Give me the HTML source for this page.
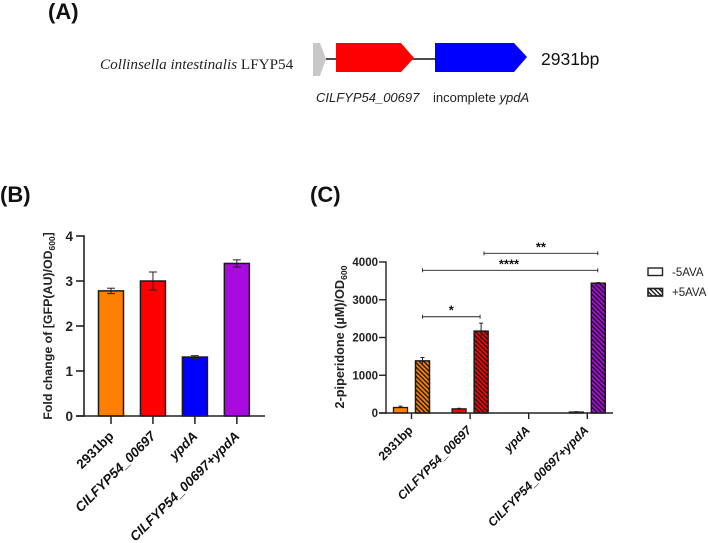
<!DOCTYPE html>
<html>
<head>
<meta charset="utf-8">
<style>
html,body{margin:0;padding:0;background:#fff;}
svg{display:block;font-family:"Liberation Sans",sans-serif;filter:blur(0.3px);}
</style>
</head>
<body>
<svg id="fig" width="708" height="543" viewBox="0 0 708 543" xmlns="http://www.w3.org/2000/svg">
<defs>
<pattern id="hatch" patternUnits="userSpaceOnUse" width="3.2" height="3.2" patternTransform="rotate(45)">
<rect x="0" y="0" width="3.2" height="1.4" fill="#1a1a1a"></rect>
</pattern>
</defs>

<g id="panel-a">
<text x="48" y="19" font-size="22" font-weight="bold" fill="#111">(A)</text>
<text x="100" y="69" font-size="15.2" fill="#222" style="font-family:'Liberation Serif',serif"><tspan font-style="italic">Collinsella intestinalis</tspan> LFYP54</text>
<line x1="326" y1="59" x2="435" y2="59" stroke="#111" stroke-width="1.5"></line>
<polygon points="313,43 320,43 326,59 320,76 313,76" fill="#c8c8c8"></polygon>
<polygon points="336,43 401,43 414,58 401,72 336,72" fill="#ff0000"></polygon>
<polygon points="435,43 514,43 527,57 514,72 435,72" fill="#0000ff"></polygon>
<text x="541" y="65" font-size="17.5" fill="#111">2931bp</text>
<text x="316" y="102" font-size="13" font-style="italic" fill="#222">CILFYP54_00697</text>
<text x="433" y="102" font-size="13" fill="#222">incomplete <tspan font-style="italic">ypdA</tspan></text>
</g>

<text x="0" y="202" font-size="22" font-weight="bold" fill="#111">(B)</text>
<text x="310" y="202" font-size="22" font-weight="bold" fill="#111">(C)</text>

<g id="chart-b"></g>
<g id="chart-c"></g>

<g id="legend">
<g>
<rect x="648" y="268" width="14.5" height="7.5" fill="#fff" stroke="#222" stroke-width="1.4"></rect>
<text x="672" y="276" font-size="11.5" fill="#222">-5AVA</text>
</g>
<g>
<rect x="648" y="288.5" width="14.5" height="7.5" fill="#fff" stroke="#222" stroke-width="1.4"></rect>
<rect x="648" y="288.5" width="14.5" height="7.5" fill="url(#hatch)" stroke="#222" stroke-width="1.4"></rect>
<text x="672" y="296" font-size="11.5" fill="#222">+5AVA</text>
</g>
</g>
</svg>

<script>
const SVG_NS = 'http://www.w3.org/2000/svg';

// Panel B data
const bCategories = ['2931bp', 'CILFYP54_00697', 'ypdA', 'CILFYP54_00697+ypdA'];
const bValues = [2.78, 3.0, 1.31, 3.39];
const bErrors = [0.06, 0.2, 0.03, 0.08];
const bTicks = [0, 1, 2, 3, 4];

// Panel C data
const cCategories = ['2931bp', 'CILFYP54_00697', 'ypdA', 'CILFYP54_00697+ypdA'];
const cMinusValues = [145, 110, 0, 25];
const cMinusErrors = [35, 15, 0, 10];
const cPlusValues = [1380, 2170, 0, 3440];
const cPlusErrors = [90, 210, 0, 15];
const cTicks = [0, 1000, 2000, 3000, 4000];

// Bracket annotations: [from category index, to category index, value height, stars]
const cBrackets = [
  [0, 3, 4230, '**'],
  [0, 3, 3780, '****'],
  [0, 1, 2550, '*']
];

const barColors = ['#ff8000', '#ff0000', '#0000ff', '#a80adf'];
const ink = '#222';

function mk(parent, tag, attrs, text) {
  const el = document.createElementNS(SVG_NS, tag);
  for (const k in attrs) el.setAttribute(k, attrs[k]);
  if (text !== undefined) el.textContent = text;
  parent.appendChild(el);
  return el;
}

function line(parent, x1, y1, x2, y2, w, name) {
  const el = mk(parent, 'line', { x1: x1, y1: y1, x2: x2, y2: y2, stroke: ink, 'stroke-width': w });
  
  
  return el;
}

function errorBar(parent, x, yTop, yBase, cap, name) {
  line(parent, x, yTop, x, yBase, 1, name);
  line(parent, x - cap, yTop, x + cap, yTop, 1, name + '-cap');
}

function catLabel(parent, x, y, label, size, name) {
  const t = mk(parent, 'text', {
    x: x, y: y, 'font-size': size, 'font-weight': 'bold', fill: '#111', 'text-anchor': 'end',
    transform: 'rotate(-45 ' + x + ' ' + y + ')'
  }, label);
  if (label !== '2931bp') t.setAttribute('font-style', 'italic');
  
  
}

function yTitle(parent, x, y, main, sub, after, size, name) {
  const t = mk(parent, 'text', {
    x: x, y: y, 'font-size': size, 'font-weight': 'bold', fill: '#222', 'text-anchor': 'middle',
    transform: 'rotate(-90 ' + x + ' ' + y + ')'
  });
  
  
  mk(t, 'tspan', {}, main);
  mk(t, 'tspan', { 'font-size': size * 0.68, dy: 3 }, sub);
  if (after) mk(t, 'tspan', { dy: -3 }, after);
}

/* ---------- Panel B ---------- */
(function () {
  const g = document.getElementById('chart-b');
  const y0 = 416, yMax = 236, vMax = 4;
  const yScale = function (v) { return y0 - (v / vMax) * (y0 - yMax); };
  const xScale = function (i) { return 111 + i * 41.95; };
  const barW = 25;

  bCategories.forEach(function (c, i) {
    const x = xScale(i);
    const yTop = yScale(bValues[i]);
    const bar = mk(g, 'rect', {
      x: x - barW / 2, y: yTop, width: barW, height: y0 - yTop,
      fill: barColors[i], stroke: '#1a1a1a', 'stroke-width': 1.5
    });
    
    
    errorBar(g, x, yScale(bValues[i] + bErrors[i]), yScale(bValues[i] - bErrors[i]), 4, 'error-bar-b-' + i);
    line(g, x - 4, yScale(bValues[i] - bErrors[i]), x + 4, yScale(bValues[i] - bErrors[i]), 1, 'error-cap-low-b-' + i);
    line(g, x, y0, x, y0 + 8, 1.5, 'x-tick-b-' + i);
    catLabel(g, x + 3.5, y0 + 21, c, 13.4, 'x-label-b-' + i);
  });

  line(g, 84, yMax - 0.75, 84, y0 + 0.75, 1.6, 'y-axis-b');
  line(g, 76, y0, 265, y0, 1.6, 'x-axis-b');
  bTicks.forEach(function (v, i) {
    const y = yScale(v);
    line(g, 76, y, 84, y, 1.6, 'y-tick-b-' + i);
    const t = mk(g, 'text', { x: 73, y: y + 5, 'font-size': 13.5, 'font-weight': 'bold', fill: '#222', 'text-anchor': 'end' }, String(v));
    
    
  });
  yTitle(g, 52, 326, 'Fold change of [GFP(AU)/OD', '600', ']', 12.4, 'y-axis-title-b');
})();

/* ---------- Panel C ---------- */
(function () {
  const g = document.getElementById('chart-c');
  const y0 = 413, yMax = 262, vMax = 4000;
  const yScale = function (v) { return y0 - (v / vMax) * (y0 - yMax); };
  const xScale = function (i) { return 411.5 + i * 58.6; };
  const barW = 14, off = 11;

  function drawBar(x, v, err, i, hatched, name) {
    if (v <= 0) return;
    const yTop = yScale(v);
    errorBar(g, x, yScale(v + err), yTop, 2, 'error-bar-' + name);
    const r = mk(g, 'rect', {
      x: x - barW / 2, y: yTop, width: barW, height: y0 - yTop,
      fill: barColors[i], stroke: '#1a1a1a', 'stroke-width': 1.3
    });
    
    
    if (hatched) {
      const h = mk(g, 'rect', {
        x: x - barW / 2, y: yTop, width: barW, height: y0 - yTop,
        fill: 'url(#hatch)', stroke: '#1a1a1a', 'stroke-width': 1.3
      });
      
      
      line(g, x, yScale(v - err), x, yTop, 1, 'error-low-' + name);
    }
  }

  cCategories.forEach(function (c, i) {
    const x = xScale(i);
    drawBar(x - off, cMinusValues[i], cMinusErrors[i], i, false, 'c-minus-' + i);
    drawBar(x + off, cPlusValues[i], cPlusErrors[i], i, true, 'c-plus-' + i);
    line(g, x, y0, x, y0 + 6, 1.4, 'x-tick-c-' + i);
    catLabel(g, x + 2, y0 + 18, c, 12.3, 'x-label-c-' + i);
  });

  line(g, 386, yMax - 0.75, 386, y0 + 0.75, 1.4, 'y-axis-c');
  line(g, 379, y0, 613, y0, 1.4, 'x-axis-c');
  cTicks.forEach(function (v, i) {
    const y = yScale(v);
    line(g, 379, y, 386, y, 1.4, 'y-tick-c-' + i);
    const t = mk(g, 'text', { x: 378, y: y + 4, 'font-size': 11.5, 'font-weight': 'bold', fill: '#222', 'text-anchor': 'end' }, String(v));
    
    
  });
  yTitle(g, 344, 337, '2-piperidone (\u00b5M)/OD', '600', '', 12.7, 'y-axis-title-c');

  const bracketStarts = [484, 422.5, 422.5];
  cBrackets.forEach(function (b, i) {
    const x1 = i === 0 ? bracketStarts[0] : xScale(b[0]) + off;
    const x2 = xScale(b[1]) + (b[1] === 3 ? off - 0.5 : off - 1);
    const y = yScale(b[2]);
    line(g, x1, y, x2, y, 0.9, 'significance-bracket-' + i);
    line(g, x1, y - 2, x1, y + 2, 0.9, 'significance-bracket-left-' + i);
    line(g, x2, y - 2, x2, y + 2, 0.9, 'significance-bracket-right-' + i);
    const t = mk(g, 'text', {
      x: (i === 1 ? 509 : (x1 + x2) / 2), y: y - 2, 'font-size': 13, 'font-weight': 'bold',
      fill: '#111', 'text-anchor': 'middle'
    }, b[3]);
    
    
  });
})();
</script>
</body>
</html>
